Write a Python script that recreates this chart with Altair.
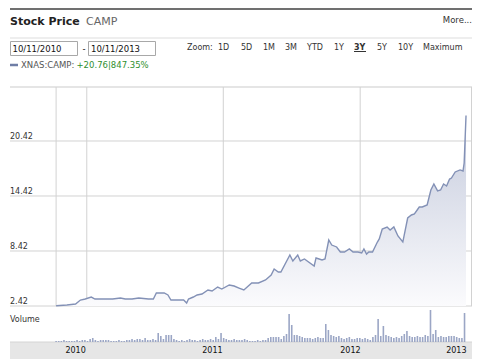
import altair as alt
import pandas as pd

# ---------------- data ----------------
# price series: day offset since 10/11/2010, closing price
price_day = [0, 29, 52, 65, 78, 94, 104, 125, 151, 172, 185, 203, 221, 247, 260, 268, 289, 299,
             307, 333, 341, 349, 354, 367, 377, 390, 406, 417, 432, 443, 463, 476, 489, 502, 523,
             541, 560, 575, 583, 594, 601, 625, 633, 646, 653, 664, 690, 695, 711, 719, 729, 737,
             750, 760, 771, 784, 794, 807, 817, 823, 830, 836, 846, 859, 864, 872, 885, 893, 903,
             914, 927, 940, 950, 958, 971, 979, 992, 1002, 1010, 1020, 1028, 1036, 1044, 1052,
             1057, 1067, 1080, 1088, 1091, 1096]
price_val = [2.45, 2.53, 2.64, 3.07, 3.18, 3.40, 3.18, 3.18, 3.18, 3.29, 3.18, 3.18, 3.29, 3.18,
             3.18, 3.84, 3.84, 3.62, 3.07, 3.07, 3.07, 2.75, 3.18, 3.40, 3.62, 3.73, 4.17, 4.06,
             4.49, 4.27, 4.71, 4.60, 4.38, 4.17, 4.93, 4.93, 5.26, 5.80, 6.46, 6.13, 6.13, 7.98,
             7.33, 7.98, 7.33, 7.55, 6.78, 7.66, 7.44, 7.55, 9.62, 9.07, 8.86, 8.31, 8.31, 8.64,
             8.31, 8.31, 8.20, 8.64, 8.09, 8.31, 8.31, 9.40, 9.73, 10.82, 11.04, 10.71, 11.04,
             10.06, 9.40, 12.02, 12.35, 12.46, 13.22, 13.22, 13.44, 15.07, 15.73, 14.97, 15.07,
             15.73, 15.51, 16.27, 16.38, 17.04, 17.26, 17.15, 18.02, 23.21]

# weekly volume (relative units)
vol_val = [1, 1, 1, 2, 1, 1, 1, 1, 2, 1, 2, 2, 1,
           3, 4, 2, 1, 2, 2,
           2, 2, 1, 1, 1, 2, 1, 1, 2, 2, 3, 2,
           3, 3, 2, 4, 2, 2, 3, 2,
           9, 6, 3, 7, 7, 7, 3,
           2, 1, 2, 1, 2, 3, 2, 2, 1, 2, 3, 2, 2, 3, 2,
           5, 3, 9,
           4, 3, 2, 2, 3, 2, 2,
           2, 3, 2, 1, 1, 1, 2, 1, 2, 2,
           4, 5, 5, 5, 5, 3, 6,
           8, 28, 17,
           7, 7, 6, 5, 4, 4, 4, 3, 4, 5, 4, 4,
           18, 12, 7, 6, 5, 6, 4, 3, 4, 5, 3, 3, 4,
           4, 3, 4, 3, 2, 5, 7,
           23, 6, 16, 7, 6, 5, 4, 5, 4, 6, 8, 11, 6, 5, 5, 6, 5, 5, 7,
           6, 32, 8, 12, 5, 6, 5, 5, 6, 6, 6, 5, 4, 4, 29]
vol_day = [7 * i for i in range(len(vol_val))]

grid_prices = [2.42, 8.42, 14.42, 20.42]
grid_labels = ["2.42", "8.42", "14.42", "20.42"]
year_labels = ["2010", "2011", "2012", "2013"]
year_label_day = [52, 418, 787, 1070]
vgrid_day = [0, 82, 447, 813]

zoom_labels = ["Zoom:", "1D", "5D", "1M", "3M", "YTD", "1Y", "3Y", "5Y", "10Y", "Maximum"]

# ---------------- tables ----------------
price_df = pd.DataFrame({"day": price_day, "price": price_val})
vol_df = pd.DataFrame({"day": vol_day, "volume": vol_val})
grid_df = pd.DataFrame({"price": grid_prices, "label": grid_labels})
year_df = pd.DataFrame({"day": year_label_day, "label": year_labels})
vgrid_df = pd.DataFrame({"day": vgrid_day})
one = pd.DataFrame({"k": [0]})

FONT = "DejaVu Sans"
W, H = 464, 351
xs = alt.Scale(domain=[-109.9, 1098.6], range=[2, 464], nice=False, zero=False)
ys = alt.Scale(domain=[2.42, 26.31], range=[298, 79], nice=False, zero=False)
vs = alt.Scale(domain=[0, 32], range=[334, 302], nice=False, zero=False)


def hrule(y, x1, x2, color, w):
    return alt.Chart(one).mark_rule(color=color, strokeWidth=w).encode(
        x=alt.value(x1), x2=alt.value(x2), y=alt.value(y))


def label(text, x, y, size=8, color="#333333", weight="normal", align="left"):
    return alt.Chart(one).mark_text(text=text, font=FONT, fontSize=size, color=color,
                                    fontWeight=weight, align=align, baseline="alphabetic").encode(
        x=alt.value(x), y=alt.value(y))


def box(x1, x2, y1, y2):
    return alt.Chart(one).mark_rect(fill="white", stroke="#a8a8a8", strokeWidth=1).encode(
        x=alt.value(x1), x2=alt.value(x2), y=alt.value(y1), y2=alt.value(y2))


layers = []
# header
layers.append(hrule(1, 2, W, "#707070", 2))
layers.append(label("Stock Price", 2, 17, size=11, color="#222222", weight="bold"))
layers.append(label("CAMP", 78, 17, size=11, color="#666666"))
layers.append(label("More...", 464, 14.5, size=8.5, color="#333333", align="right"))
layers.append(hrule(30, 2, W, "#dddddd", 1))
layers.append(box(2.5, 69.5, 33.5, 47.5))
layers.append(box(80.5, 147.5, 33.5, 47.5))
layers.append(label("10/11/2010", 4.5, 44, size=8.5, color="#111111"))
layers.append(label("-", 74.5, 44, size=8.5, color="#111111"))
layers.append(label("10/11/2013", 83, 44, size=8.5, color="#111111"))
zoom_x = [179, 210, 233, 255, 277, 299, 326, 346, 369, 390, 415]
for t, zx in zip(zoom_labels, zoom_x):
    layers.append(label(t, zx, 42, size=8, color="#333333",
                        weight="bold" if t == "3Y" else "normal"))
layers.append(hrule(43.5, 346, 358, "#333333", 1))
# legend
layers.append(hrule(57, 2, 10, "#6f7ea6", 2.5))
layers.append(label("XNAS:CAMP:", 13, 60, size=8.5, color="#555555"))
layers.append(label("+20.76|847.35%", 68.5, 60, size=8.5, color="#2f8f2f"))

# chart frame & grid
layers.append(alt.Chart(one).mark_rect(color="#e6e6e6").encode(
    x=alt.value(2), x2=alt.value(W), y=alt.value(334), y2=alt.value(H)))
layers.append(hrule(334, 2, W, "#d4d4d4", 1))
layers.append(hrule(79, 2, 464, "#dcdcdc", 1.5))
layers.append(alt.Chart(grid_df).mark_rule(color="#d2d2d2", strokeWidth=1).encode(
    y=alt.Y("price:Q", scale=ys, axis=None), x=alt.value(2), x2=alt.value(464)))
layers.append(alt.Chart(vgrid_df).mark_rule(color="#d2d2d2", strokeWidth=1).encode(
    x=alt.X("day:Q", scale=xs, axis=None), y=alt.value(79), y2=alt.value(298)))
layers.append(alt.Chart(one).mark_rule(color="#d2d2d2", strokeWidth=1).encode(
    x=alt.value(463.5), y=alt.value(79), y2=alt.value(298)))

# price area + line
grad = alt.Gradient(gradient="linear",
                    stops=[alt.GradientStop(color="#c4cadc", offset=0),
                           alt.GradientStop(color="#fbfbfd", offset=1)],
                    x1=1, x2=1, y1=0, y2=1)
layers.append(alt.Chart(price_df).mark_area(color=grad).encode(
    x=alt.X("day:Q", scale=xs, axis=None),
    y=alt.Y("price:Q", scale=ys, axis=None),
    y2=alt.datum(2.42)))
layers.append(alt.Chart(price_df).mark_line(color="#8391b6", strokeWidth=1.4).encode(
    x=alt.X("day:Q", scale=xs, axis=None),
    y=alt.Y("price:Q", scale=ys, axis=None)))

# volume
layers.append(alt.Chart(vol_df).mark_bar(width=1.6, color="#9ba6c5").encode(
    x=alt.X("day:Q", scale=xs, axis=None),
    y=alt.Y("volume:Q", scale=vs, axis=None),
    y2=alt.datum(0)))

# labels
layers.append(alt.Chart(grid_df).mark_text(font=FONT, fontSize=8, color="#333333", align="left",
                                           baseline="alphabetic", dy=-2).encode(
    y=alt.Y("price:Q", scale=ys, axis=None), x=alt.value(2), text="label:N"))
layers.append(alt.Chart(year_df).mark_text(font=FONT, fontSize=8, color="#111111", align="center",
                                           baseline="alphabetic").encode(
    x=alt.X("day:Q", scale=xs, axis=None), y=alt.value(345), text="label:N"))
layers.append(label("Volume", 2, 314, size=8, color="#333333"))

chart = alt.layer(*layers).resolve_scale(y="independent").properties(
    width=W, height=H, padding=0, autosize=alt.AutoSizeParams(type="none")
).configure_view(stroke=None)

chart.save("out.html", embed_options={"renderer": "svg", "actions": False})
